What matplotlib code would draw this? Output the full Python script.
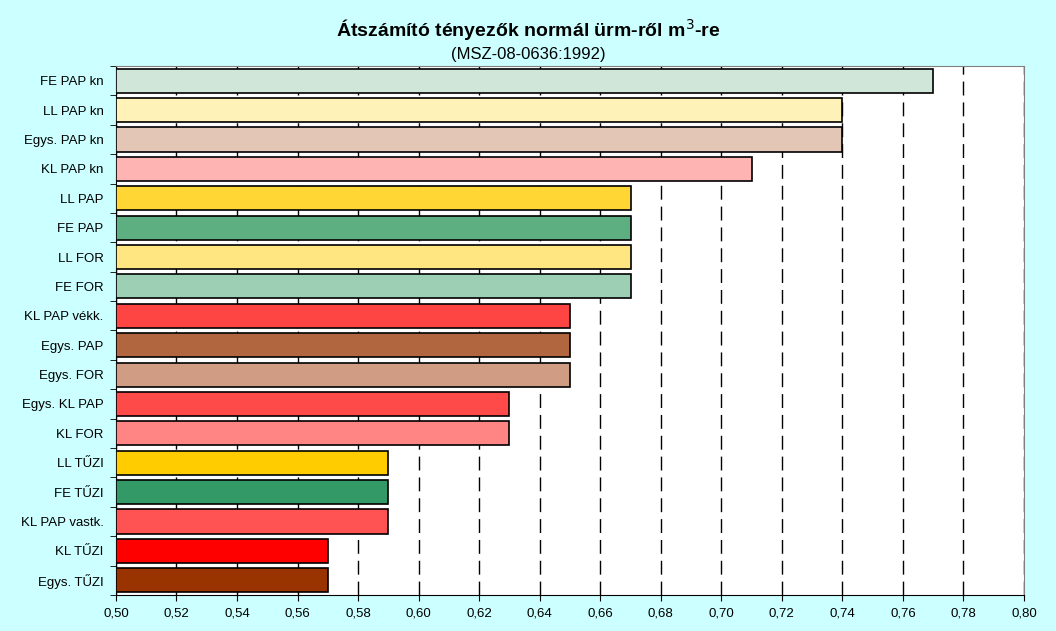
import matplotlib.pyplot as plt

plt.rcParams['font.family'] = ['Liberation Sans', 'DejaVu Sans']

# Data (top to bottom as shown)
labels = ["FE PAP kn", "LL PAP kn", "Egys. PAP kn", "KL PAP kn", "LL PAP",
          "FE PAP", "LL FOR", "FE FOR", "KL PAP vékk.", "Egys. PAP",
          "Egys. FOR", "Egys. KL PAP", "KL FOR", "LL TŰZI", "FE TŰZI",
          "KL PAP vastk.", "KL TŰZI", "Egys. TŰZI"]
values = [0.77, 0.74, 0.74, 0.71, 0.67, 0.67, 0.67, 0.67, 0.65, 0.65,
          0.65, 0.63, 0.63, 0.59, 0.59, 0.59, 0.57, 0.57]
colors = ["#CFE6D8", "#FFF2B8", "#E4C6B6", "#FFB4B4", "#FFD633",
          "#5DAF82", "#FFE680", "#9CCFB3", "#FF4444", "#B2663F",
          "#D09C84", "#FF4A4A", "#FF8585", "#FFCC00", "#339966",
          "#FF5252", "#FF0000", "#993300"]
xticks = [0.50 + 0.02 * i for i in range(16)]

fig = plt.figure(figsize=(10.56, 6.31), dpi=100, facecolor="#CCFFFF")
ax = fig.add_axes([0.1098, 0.0571, 0.8599, 0.8383])
ax.set_facecolor("white")

n = len(labels)
ypos = list(range(n))[::-1]
ax.barh(ypos, [v - 0.5 for v in values], left=0.5, height=0.82,
        color=colors, edgecolor="black", linewidth=1.2, zorder=3)

ax.set_xlim(0.50, 0.80)
ax.set_ylim(-0.5, n - 0.5)
ax.set_xticks(xticks)
ax.set_xticklabels([f"{t:.2f}".replace(".", ",") for t in xticks], fontsize=9.5)
ax.set_yticks(ypos)
ax.set_yticklabels(labels, fontsize=9.5)
ax.set_yticks([i - 0.5 for i in range(n + 1)], minor=True)
ax.tick_params(axis="y", which="major", length=0, pad=9)
ax.tick_params(axis="y", which="minor", length=4, direction="out")
ax.tick_params(axis="x", length=4, direction="out", pad=5)

ax.grid(axis="x", color="black", linewidth=1, linestyle=(0, (10, 5)), zorder=1)
ax.set_axisbelow(True)

for s in ["top", "right"]:
    ax.spines[s].set_color("#808080")
ax.spines["left"].set_color("black")
ax.spines["bottom"].set_color("black")

fig.text(0.5, 0.952, "Átszámító tényezők normál ürm-ről m$^3$-re",
         ha="center", va="center", fontsize=14, fontweight="bold")
fig.text(0.5, 0.914, "(MSZ-08-0636:1992)", ha="center", va="center", fontsize=12)

fig.savefig("out.png", dpi=100, facecolor=fig.get_facecolor())
